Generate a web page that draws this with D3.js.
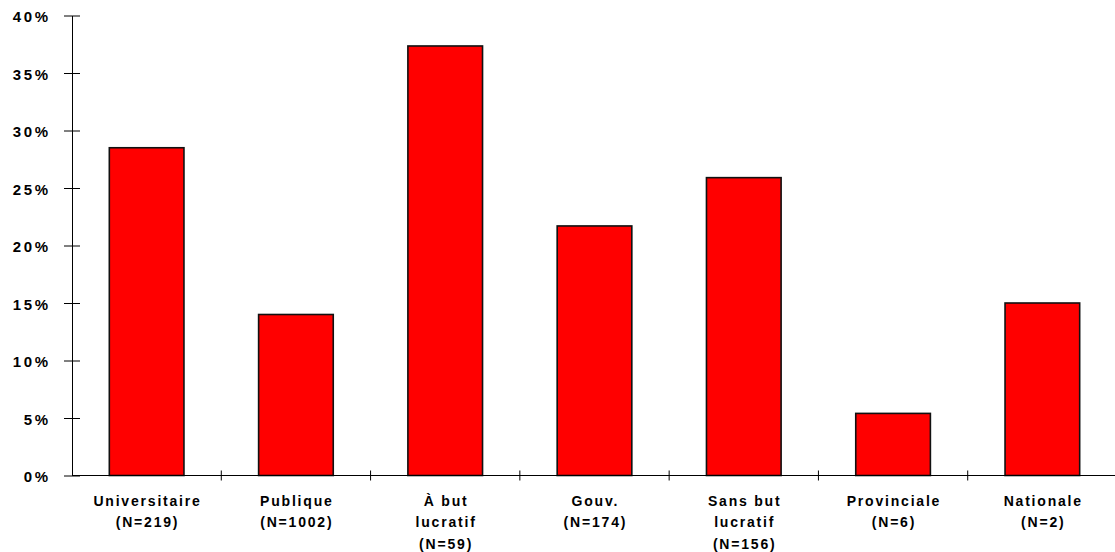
<!DOCTYPE html>
<html>
<head>
<meta charset="utf-8">
<script src="https://cdn.jsdelivr.net/npm/d3@7"></script>
<style>
  html, body { margin: 0; padding: 0; background: #fff; }
  svg { display: block; }
  text { font-family: "Liberation Sans", Arial, sans-serif; fill: #000; }
</style>
</head>
<body>
<svg id="chart" width="1115" height="552"></svg>
<script>
// ---- data ----
const categories = ["Universitaire", "Publique", "À but lucratif", "Gouv.", "Sans but lucratif", "Provinciale", "Nationale"];
const categoryLabelLines = [
  ["Universitaire", "(N=219)"],
  ["Publique", "(N=1002)"],
  ["À but", "lucratif", "(N=59)"],
  ["Gouv.", "(N=174)"],
  ["Sans but", "lucratif", "(N=156)"],
  ["Provinciale", "(N=6)"],
  ["Nationale", "(N=2)"]
];
const values = [28.5, 14.0, 37.35, 21.7, 25.9, 5.4, 15.0];
const yTicks = [0, 5, 10, 15, 20, 25, 30, 35, 40];

// ---- layout ----
const svg = d3.select("#chart");
const mLeft = 72, mRight = 1117, mTop = 15.5, mBottom = 475.5;

const x = d3.scaleBand().domain(categories).range([mLeft, mRight]).paddingInner(0.5).paddingOuter(0.25);
const y = d3.scaleLinear().domain([0, 40]).range([mBottom, mTop]);

// bars
svg.append("g").selectAll("rect")
  .data(categories)
  .join("rect")
  .attr("x", d => x(d))
  .attr("width", x.bandwidth())
  .attr("y", (d, i) => y(values[i]))
  .attr("height", (d, i) => y(0) - y(values[i]))
  .attr("fill", "#ff0000")
  .attr("stroke", "#111")
  .attr("stroke-width", 1.6);

// y axis
const yAxis = svg.append("g")
  .attr("transform", `translate(${mLeft},0)`)
  .call(d3.axisLeft(y).tickValues(yTicks).tickFormat(d => d + "%").tickSize(8).tickSizeOuter(0).tickPadding(16));
yAxis.select(".domain").attr("stroke", "#000").attr("stroke-width", 1);
yAxis.selectAll(".tick line").attr("x1", 8).attr("x2", -8).attr("stroke", "#000");
yAxis.selectAll(".tick text")
  .attr("font-family", "'Liberation Sans', Arial, sans-serif")
  .attr("font-size", 15)
  .attr("font-weight", "bold")
  .attr("letter-spacing", "2.6px")
  .attr("fill", "#000")
  .attr("dx", "2.6")
  .attr("dy", "0.4em");

// x axis
const xAxisG = svg.append("g");
xAxisG.append("line")
  .attr("x1", mLeft).attr("x2", mRight)
  .attr("y1", y(0)).attr("y2", y(0))
  .attr("stroke", "#000").attr("stroke-width", 1);

const boundaries = categories.slice(1).map(d => x(d) - x.step() * x.paddingInner() / 2);
xAxisG.selectAll("line.bt")
  .data(boundaries)
  .join("line")
  .attr("class", "bt")
  .attr("x1", d => d).attr("x2", d => d)
  .attr("y1", y(0) - 5).attr("y2", y(0) + 5)
  .attr("stroke", "#000").attr("stroke-width", 1);

// category labels
const labelG = svg.append("g");
categories.forEach((c, i) => {
  const cx = x(c) + x.bandwidth() / 2;
  const t = labelG.append("text")
    .attr("text-anchor", "middle")
    .attr("font-size", 14)
    .attr("font-weight", "bold")
    .attr("letter-spacing", "1.8px");
  categoryLabelLines[i].forEach((line, j) => {
    t.append("tspan")
      .attr("x", cx + 0.9)
      .attr("y", 505.5 + j * 21.5)
      .text(line);
  });
});
</script>
</body>
</html>
